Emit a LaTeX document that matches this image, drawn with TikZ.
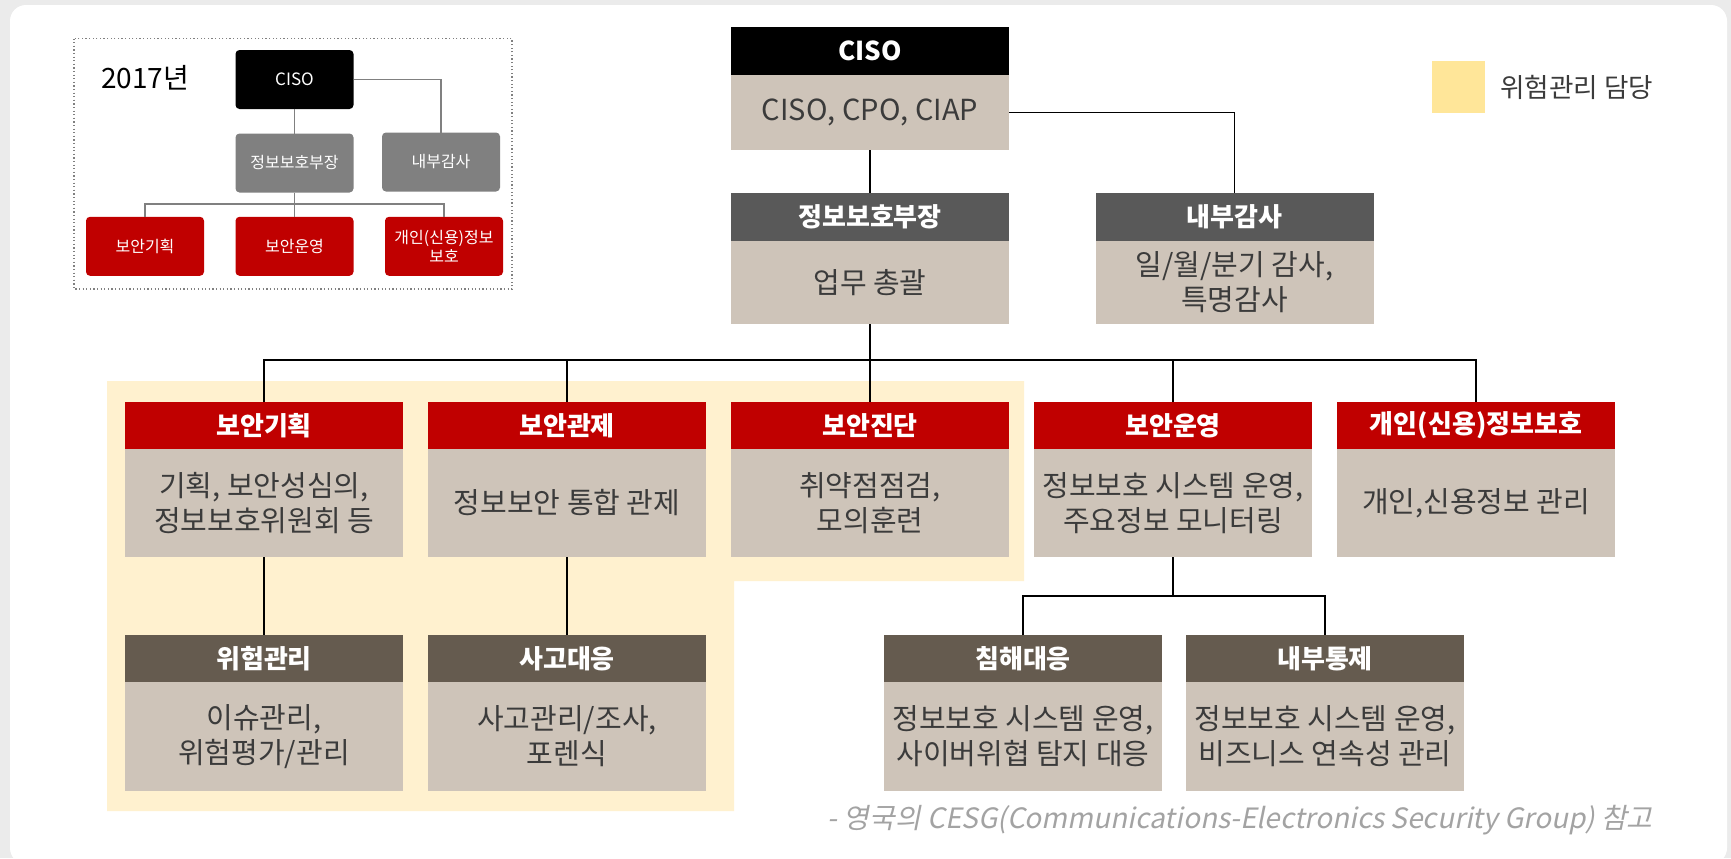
\documentclass[tikz,border=0pt]{standalone}
\usepackage{fontspec}
\setmainfont{Noto Sans CJK KR}
\newfontfamily\notefont[FakeSlant=0.2]{Noto Sans CJK KR}
\definecolor{bgc}{HTML}{EBEBEB}
\definecolor{bodyc}{HTML}{CEC4B9}
\definecolor{hgray}{HTML}{595959}
\definecolor{hred}{HTML}{C00000}
\definecolor{hbrown}{HTML}{655B4F}
\definecolor{hilite}{HTML}{FFF1CF}
\definecolor{legendc}{HTML}{FFE699}
\definecolor{txt}{HTML}{3B3B3B}
\definecolor{sgray}{HTML}{808080}
\definecolor{notec}{HTML}{A3A3A3}
\tikzset{
  hdr/.style={minimum width=139pt, inner sep=0pt, outer sep=0pt, text=white,
    font=\fontsize{13}{15}\selectfont\bfseries, anchor=north},
  bdy/.style={fill=bodyc, minimum width=139pt, inner sep=0pt, outer sep=0pt, text=txt,
    font=\fontsize{14.5}{17.5}\selectfont, align=center, anchor=north},
  conn/.style={draw=black, line width=0.75pt},
  sbox/.style={rounded corners=2pt, inner sep=0pt, outer sep=0pt, text=white, align=center,
    font=\fontsize{8}{9.5}\selectfont, minimum width=59pt, minimum height=29.5pt},
  sconn/.style={draw=sgray, line width=0.6pt},
}
\newcommand\obox[8]{%
  \node[hdr,fill=#6,minimum height=#4*0.5pt] (#1h) at (#2,#3) {#7};
  \node[bdy,minimum height=#5*0.5pt] (#1) at (#1h.south) {#8};
}
\begin{document}
\begin{tikzpicture}[x=0.5pt,y=-0.5pt]
\useasboundingbox (0,0) rectangle (1731,858);
\fill[bgc] (0,0) rectangle (1731,858);
\fill[white, rounded corners=8pt] (10,5) rectangle (1727,864);
% highlight
\fill[hilite] (107,381) -- (1024,381) -- (1024,581) -- (734,581) -- (734,811) -- (107,811) -- cycle;
% legend
\node[fill=legendc, minimum width=26.5pt, minimum height=26pt, inner sep=0pt] (legsq) at (1458,87) {};
\node[anchor=west, text=txt, font=\fontsize{13.3}{16}\selectfont, inner sep=0pt] (legtx) at (1500,87) {위험관리 담당};
% small 2017 diagram
\draw[sgray, line width=0.6pt, dash pattern=on 0.6pt off 1.2pt] (74,38.5) rectangle (512,289);
\node[font=\fontsize{14}{16}\selectfont, text=black] (year) at (145,78) {2017년};
\node[sbox, fill=black, font=\fontsize{8.5}{10}\selectfont] (sc) at (294.5,79.5) {CISO};
\node[sbox, fill=sgray] (shd) at (294.5,163) {정보보호부장};
\node[sbox, fill=sgray] (sau) at (441,162) {내부감사};
\node[sbox, fill=hred] (s1) at (145,246.3) {보안기획};
\node[sbox, fill=hred] (s2) at (294.5,246.3) {보안운영};
\node[sbox, fill=hred] (s3) at (444,246.3) {개인(신용)정보\\보호};
\coordinate (sbus) at (294.5,204);
\draw[sconn] (sc.east) -| (sau.north);
\draw[sconn] (sc.south) -- (shd.north);
\draw[sconn] (shd.south) -- (s2.north);
\draw[sconn] (s1.north) |- (sbus) -| (s3.north);
% main chart
\obox{ciso}{870}{27}{48}{75}{black}{CISO}{CISO, CPO, CIAP}
\obox{head}{870}{193}{48}{83}{hgray}{정보보호부장}{업무 총괄}
\obox{audit}{1234.5}{193}{48}{83}{hgray}{내부감사}{일/월/분기 감사,\\특명감사}
\obox{p1}{264}{402}{47}{108}{hred}{보안기획}{기획, 보안성심의,\\정보보호위원회 등}
\obox{p2}{567}{402}{47}{108}{hred}{보안관제}{정보보안 통합 관제}
\obox{p3}{870}{402}{47}{108}{hred}{보안진단}{취약점점검,\\모의훈련}
\obox{p4}{1173}{402}{47}{108}{hred}{보안운영}{정보보호 시스템 운영,\\주요정보 모니터링}
\obox{p5}{1476}{402}{47}{108}{hred}{개인(신용)정보보호}{개인,신용정보 관리}
\obox{q1}{264}{635}{47}{109}{hbrown}{위험관리}{이슈관리,\\위험평가/관리}
\obox{q2}{567}{635}{47}{109}{hbrown}{사고대응}{사고관리/조사,\\포렌식}
\obox{q3}{1023}{635}{47}{109}{hbrown}{침해대응}{정보보호 시스템 운영,\\사이버위협 탐지 대응}
\obox{q4}{1325}{635}{47}{109}{hbrown}{내부통제}{정보보호 시스템 운영,\\비즈니스 연속성 관리}
\coordinate (bus) at (870,360);
\coordinate (bus2) at (1173,596);
\draw[conn] (ciso.east) -| (audith.north);
\draw[conn] (ciso.south) -- (headh.north);
\draw[conn] (head.south) -- (p3h.north);
\draw[conn] (p1h.north) |- (bus) -| (p5h.north);
\draw[conn] (p2h.north) -- (p2h.north |- bus);
\draw[conn] (p4h.north) -- (p4h.north |- bus);
\draw[conn] (p1.south) -- (q1h.north);
\draw[conn] (p2.south) -- (q2h.north);
\draw[conn] (p4.south) -- (bus2);
\draw[conn] (q3h.north) |- (bus2) -| (q4h.north);
% footnote
\node[anchor=east, text=notec, font=\notefont\fontsize{14}{16}\selectfont, inner sep=0pt] (note) at (1653,820) {- 영국의 CESG(Communications-Electronics Security Group) 참고};
\end{tikzpicture}
\end{document}
